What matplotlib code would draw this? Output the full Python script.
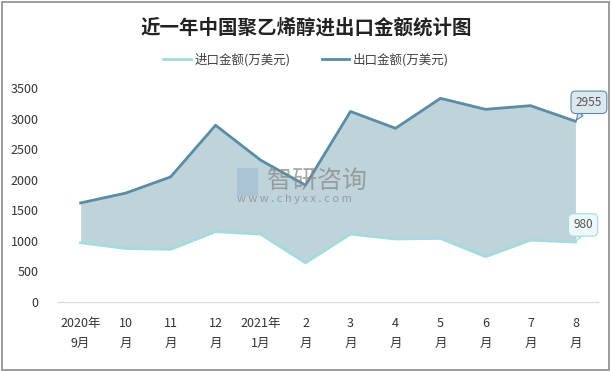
import matplotlib.pyplot as plt
import numpy as np

plt.rcParams['font.family'] = ['Noto Sans CJK SC', 'DejaVu Sans']

# data
months = ['2020年\n9月', '10\n月', '11\n月', '12\n月', '2021年\n1月', '2\n月',
          '3\n月', '4\n月', '5\n月', '6\n月', '7\n月', '8\n月']
imports = [970, 875, 860, 1150, 1110, 640, 1110, 1030, 1040, 740, 1010, 980]
exports = [1620, 1780, 2045, 2890, 2320, 1910, 3115, 2840, 3330, 3150, 3210, 2955]

imp_color = '#a3dcdc'
exp_color = '#5a8ca5'

fig = plt.figure(figsize=(6.12, 3.71), dpi=100)
# grey border round the figure
fig.patches.append(plt.Rectangle((0.003, 0.004), 0.992, 0.99, transform=fig.transFigure,
                                 fill=False, ec='#8c8c8c', lw=1.2))

ax = fig.add_axes([0.095, 0.186, 0.882, 0.577])
x = np.arange(len(months))

ax.fill_between(x, imports, exports, color='#bfd3db', lw=0)
ax.plot(x, imports, color=imp_color, lw=2, label='进口金额(万美元)')
ax.plot(x, exports, color=exp_color, lw=2, label='出口金额(万美元)')

ax.set_xlim(-0.5, len(months) - 0.5)
ax.set_ylim(0, 3500)
ax.set_yticks(range(0, 3501, 500))
ax.set_xticks(x)
ax.set_xticklabels(months, fontsize=9, color='#333333', linespacing=1.7)
ax.tick_params(axis='y', labelsize=9, labelcolor='#333333', length=0, pad=14)
ax.tick_params(axis='x', length=0, pad=11)
for s in ['top', 'right', 'left']:
    ax.spines[s].set_visible(False)
ax.spines['bottom'].set_color('#d9d9d9')

# callouts on the last point
ax.annotate(str(exports[-1]), xy=(x[-1], exports[-1]), xytext=(x[-1] + 0.3, exports[-1] + 310),
            ha='center', va='center', fontsize=8.5, color='#555555',
            bbox=dict(boxstyle='round,pad=0.4', fc='#dde8ee', ec=exp_color, lw=0.8),
            arrowprops=dict(arrowstyle='wedge,tail_width=0.5', fc='#dde8ee', ec=exp_color,
                            lw=0.8, shrinkA=0, shrinkB=1))
ax.annotate(str(imports[-1]), xy=(x[-1], imports[-1]), xytext=(x[-1] + 0.17, imports[-1] + 280),
            ha='center', va='center', fontsize=8.5, color='#555555',
            bbox=dict(boxstyle='round,pad=0.4', fc='#eef8f8', ec=imp_color, lw=0.8),
            arrowprops=dict(arrowstyle='wedge,tail_width=0.5', fc='#eef8f8', ec=imp_color,
                            lw=0.8, shrinkA=0, shrinkB=1))

# watermark
fig.patches.append(plt.Rectangle((0.388, 0.472), 0.034, 0.075, transform=fig.transFigure,
                                 fc='#9ab8d0', ec='none', alpha=0.55))
fig.text(0.437, 0.512, '智研咨询', fontsize=18, color='#8a8a8a', alpha=0.75, va='center')
fig.text(0.388, 0.463, 'w w w . c h y x x . c o m', fontsize=8, color='#8a8a8a', alpha=0.75, va='center')

fig.text(0.5, 0.925, '近一年中国聚乙烯醇进出口金额统计图', ha='center', va='center',
         fontsize=14, fontweight='bold', color='#222222')
fig.legend(loc='center', bbox_to_anchor=(0.5, 0.838), ncol=2, frameon=False, fontsize=9,
           handlelength=2.2, columnspacing=2.5, handletextpad=0.3, labelcolor='#404040')

fig.savefig('out.png', dpi=100)
